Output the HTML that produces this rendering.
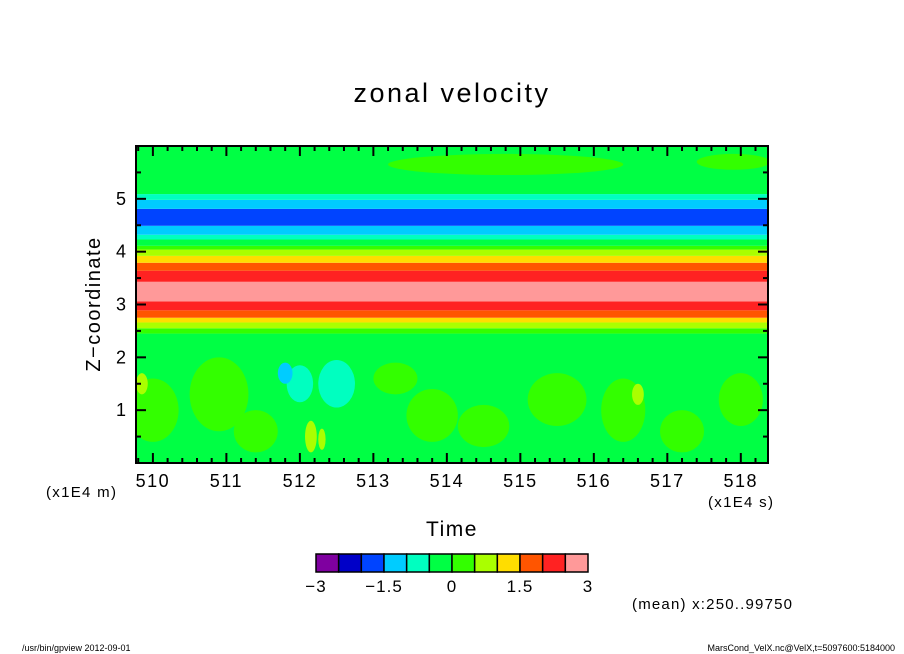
<!DOCTYPE html>
<html><head><meta charset="utf-8"><style>
body{margin:0;background:#fff;width:904px;height:654px;overflow:hidden}
svg{display:block}
text{font-family:"Liberation Sans",sans-serif;fill:#000}
</style></head><body>
<svg id="chart" width="904" height="654">
<text x="452" y="102" font-size="27" letter-spacing="2.5" text-anchor="middle">zonal velocity</text>
<g id="plot"></g>
<g id="axes"></g>
<text x="100" y="304" font-size="20" letter-spacing="1.5" text-anchor="middle" transform="rotate(-90 100 304)">Z−coordinate</text>
<text x="452" y="536" font-size="21" letter-spacing="1.5" text-anchor="middle">Time</text>
<text x="46" y="497" font-size="15" letter-spacing="1.3">(x1E4 m)</text>
<text x="708" y="507" font-size="15" letter-spacing="1.3">(x1E4 s)</text>
<g id="cbar"></g>
<text x="632" y="609" font-size="15" letter-spacing="1.2">(mean) x:250..99750</text>
<text x="22" y="651" font-size="9">/usr/bin/gpview  2012-09-01</text>
<text x="895" y="651" font-size="9" text-anchor="end">MarsCond_VelX.nc@VelX,t=5097600:5184000</text>
</svg>
<script>
const colors=["#7f00a0","#0000c8","#0044ff","#00ccff","#00ffc0","#00ff44","#33ff00","#aaff00","#ffdd00","#ff5500","#ff2222","#ff9999"];
const cbarTicks=["−3","−1.5","0","1.5","3"];
const cbarTickVals=[-3,-1.5,0,1.5,3];
const xTicks=[510,511,512,513,514,515,516,517,518];
const yTicks=[1,2,3,4,5];
const bandLow=[0,2.45,2.55,2.66,2.75,2.89,3.06,3.43,3.64,3.79,3.92,4.04,4.11,4.23,4.32,4.49,4.81,4.98,5.09];
const bandHigh=[2.45,2.55,2.66,2.75,2.89,3.06,3.43,3.64,3.79,3.92,4.04,4.11,4.23,4.32,4.49,4.81,4.98,5.09,6];
const bandVal=[-0.25,0.25,0.75,1.25,1.75,2.25,2.75,2.25,1.75,1.25,0.75,0.25,-0.25,-0.75,-1.25,-1.75,-1.25,-0.75,-0.25];
const patchT=[510.0,510.9,511.4,512.0,512.5,512.15,513.3,513.8,514.5,515.5,516.4,517.2,518.0,511.8,516.6,512.3,509.85,517.9,514.8];
const patchZ=[1.0,1.3,0.6,1.5,1.5,0.5,1.6,0.9,0.7,1.2,1.0,0.6,1.2,1.7,1.3,0.45,1.5,5.7,5.65];
const patchRT=[0.35,0.4,0.3,0.18,0.25,0.08,0.3,0.35,0.35,0.4,0.3,0.3,0.3,0.1,0.08,0.05,0.08,0.5,1.6];
const patchRZ=[0.6,0.7,0.4,0.35,0.45,0.3,0.3,0.5,0.4,0.5,0.6,0.4,0.5,0.2,0.2,0.2,0.2,0.15,0.2];
const patchV=[0.25,0.25,0.25,-0.75,-0.75,0.75,0.25,0.25,0.25,0.25,0.25,0.25,0.25,-1.25,0.75,0.75,0.75,0.25,0.25];
const NS="http://www.w3.org/2000/svg";
const L=136,R=768,T=146,B=463,t0=509.77,t1=518.37,z0=0,z1=6;
const xs=t=>L+(t-t0)/(t1-t0)*(R-L);
const ys=z=>B-(z-z0)/(z1-z0)*(B-T);
const col=v=>colors[Math.max(0,Math.min(11,Math.floor((v+3)/0.5)))];
function mk(tag,at,parent){const e=document.createElementNS(NS,tag);for(const k in at)e.setAttribute(k,at[k]);parent.appendChild(e);return e;}
const plot=document.getElementById('plot');
const cp=mk('clipPath',{id:'cp'},plot);mk('rect',{x:L,y:T,width:R-L,height:B-T},cp);
const g=mk('g',{'clip-path':'url(#cp)'},plot);
bandVal.forEach((v,i)=>{const r=mk('rect',{x:L,y:ys(bandHigh[i]),width:R-L,height:ys(bandLow[i])-ys(bandHigh[i]),fill:col(v)},g);

});
patchV.forEach((v,i)=>{const e=mk('ellipse',{cx:xs(patchT[i]),cy:ys(patchZ[i]),rx:xs(patchT[i]+patchRT[i])-xs(patchT[i]),ry:ys(patchZ[i])-ys(patchZ[i]+patchRZ[i]),fill:col(v)},g);

});
const ax=document.getElementById('axes');
mk('rect',{x:L,y:T,width:R-L,height:B-T,fill:'none',stroke:'#000','stroke-width':2},ax);
for(let t=509.8;t<=518.4;t+=0.2){const k=Math.round(t*5)%5===0;if(t<t0||t>t1)continue;
mk('line',{x1:xs(t),x2:xs(t),y1:B,y2:B-(k?10:5),stroke:'#000','stroke-width':2},ax);
mk('line',{x1:xs(t),x2:xs(t),y1:T,y2:T+(k?10:5),stroke:'#000','stroke-width':2},ax);}
for(let z=0.5;z<6;z+=0.5){const k=z%1===0;
mk('line',{x1:L,x2:L+(k?10:5),y1:ys(z),y2:ys(z),stroke:'#000','stroke-width':2},ax);
mk('line',{x1:R,x2:R-(k?10:5),y1:ys(z),y2:ys(z),stroke:'#000','stroke-width':2},ax);}
xTicks.forEach(t=>{const e=mk('text',{x:xs(t),y:B+24,'font-size':18,'letter-spacing':1.5,'text-anchor':'middle'},ax);e.textContent=t;

});
yTicks.forEach(z=>{const e=mk('text',{x:L-10,y:ys(z)+6,'font-size':18,'text-anchor':'end'},ax);e.textContent=z;

});
const cb=document.getElementById('cbar');const cx0=316,cw=272,cy=554,ch=18;
colors.forEach((c,i)=>{const r=mk('rect',{x:cx0+i*cw/12,y:cy,width:cw/12,height:ch,fill:c,stroke:'#000','stroke-width':1.5},cb);

});
cbarTicks.forEach((s,i)=>{const e=mk('text',{x:cx0+(cbarTickVals[i]+3)/6*cw,y:cy+38,'font-size':17,'letter-spacing':1,'text-anchor':'middle'},cb);e.textContent=s;

});
</script>
</body></html>
